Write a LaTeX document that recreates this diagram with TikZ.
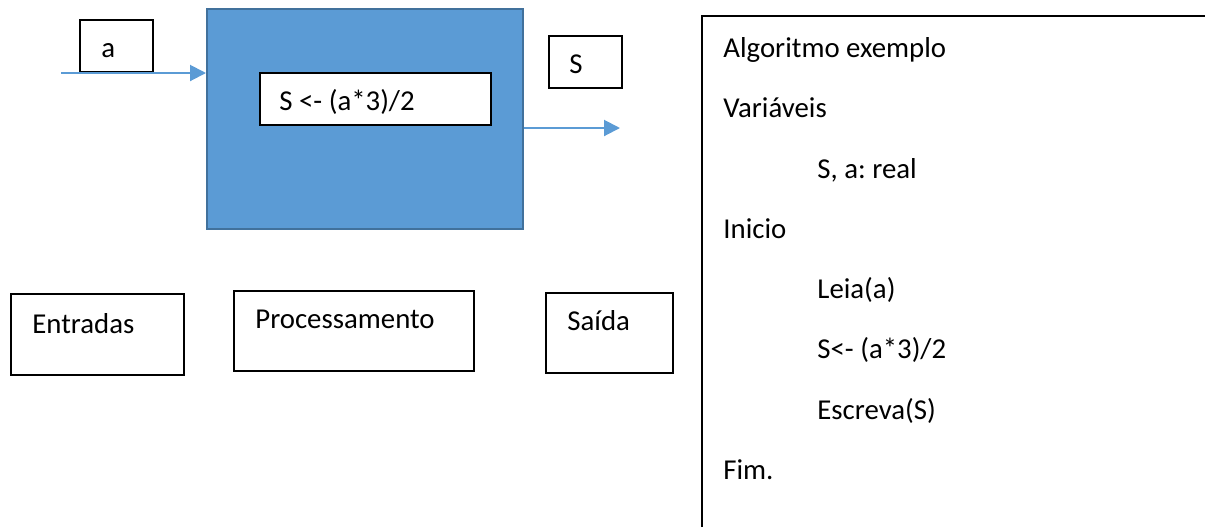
\documentclass[tikz,border=0pt]{standalone}
\usepackage{fontspec}
\setmainfont{Carlito}
\frenchspacing
\usetikzlibrary{arrows.meta}
\definecolor{azul}{HTML}{5B9BD5}
\definecolor{azulborda}{HTML}{41719C}

\begin{document}
\begin{tikzpicture}[x=0.5pt,y=-0.5pt,
  caixa/.style={draw,rectangle,line width=0.75pt,anchor=north west,inner sep=0pt},
  texto/.style={anchor=base west,inner sep=0pt,font=\fontsize{14.4}{17}\selectfont},
  seta/.style={azul,line width=1pt,-{Triangle[length=8pt,width=8pt]}}]
\useasboundingbox (0,0) rectangle (1205,527);
%diagrama
\node [caixa,minimum width=36.5pt,minimum height=26pt] (ca) at(79,19){};
\node [caixa,fill=azul,draw=azulborda,line width=1pt,minimum width=158pt,minimum height=110pt] (proc) at(206,8){};
\node [caixa,fill=white,minimum width=115.5pt,minimum height=26pt] (form) at(259,72){};
\node [caixa,minimum width=36.5pt,minimum height=26pt] (cs) at(548,35){};
\node [texto] (ta) at(101,57){a};
\node [texto] (tform) at(279,110){S <- (a*3)/2};
\node [texto] (ts) at(569,73){S};
\coordinate (ini) at(61,73);
\coordinate (fim) at(620,128);
\draw[seta](ini) -- (ini -| proc.west);
\draw[seta](proc.east |- fim) -- (fim);
%legendas
\node [caixa,minimum width=86.5pt,minimum height=40.5pt] (entr) at(10,293){};
\node [caixa,minimum width=120pt,minimum height=40pt] (procl) at(233,290){};
\node [caixa,minimum width=63.5pt,minimum height=40pt] (said) at(545,292){};
\node [texto] (tentr) at(32,333){Entradas};
\node [texto] (tproc) at(255,328){Processamento};
\node [texto] (tsaid) at(567,330){Saída};
%algoritmo
\draw[line width=1pt](702,527) -- (702,16) -- (1205,16);
\node [texto] (l1) at(723,57){Algoritmo exemplo};
\node [texto] (l2) at(723,117){Variáveis};
\node [texto] (l3) at(817,178){S, a: real};
\node [texto] (l4) at(723,238){Inicio};
\node [texto] (l5) at(817,298){Leia(a)};
\node [texto] (l6) at(817,358){S<- (a*3)/2};
\node [texto] (l7) at(817,419){Escreva(S)};
\node [texto] (l8) at(723,479){Fim.};

\end{tikzpicture}
\end{document}
